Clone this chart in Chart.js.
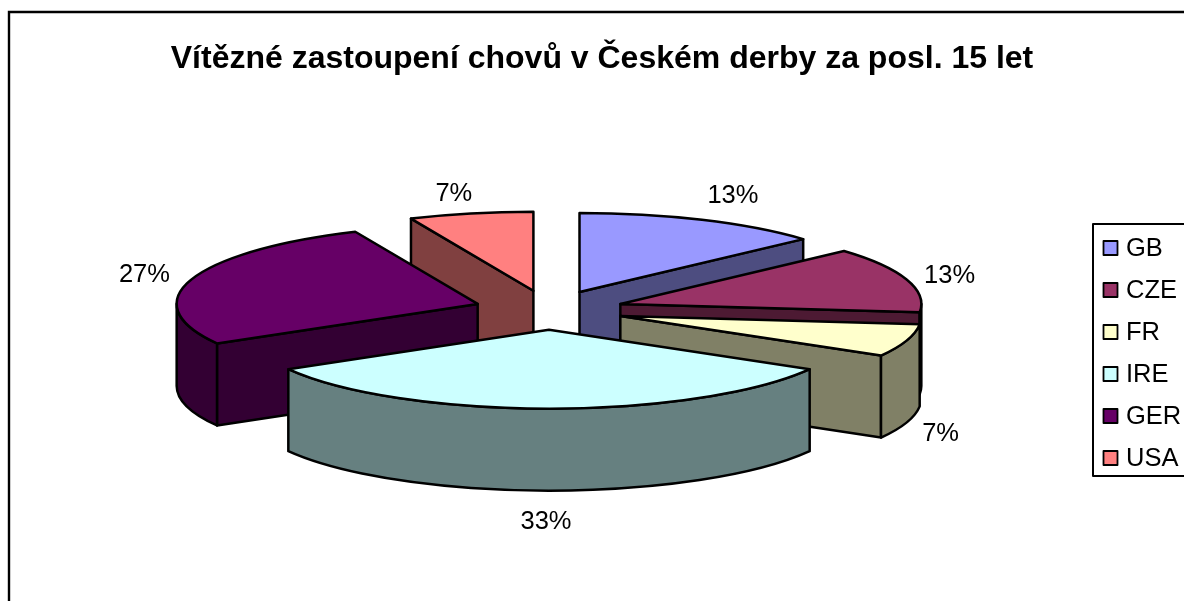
<!DOCTYPE html>
<html><head><meta charset="utf-8">
<style>html,body{margin:0;padding:0;background:#fff;overflow:hidden}#w{width:1184px;height:601px;position:relative}</style>
<script src="https://cdn.jsdelivr.net/npm/chart.js@4"></script>
</head><body><div id="w"><canvas id="c"></canvas></div>
<script>
const titleText = 'Vítězné zastoupení chovů v Českém derby za posl. 15 let';
const categories = ['GB','CZE','FR','IRE','GER','USA'];
const wins = [2,2,1,5,4,1];
const topColors = ['#9999FF','#993366','#FFFFCC','#CCFFFF','#660066','#FF8080'];
const sideColors = ['#4D4D80','#4D1A33','#808066','#668080','#330033','#804040'];
// pie projection on the page
const CX = 549, CY = 310, RX = 301, RY = 79, DEPTH = 82, EXPLODE = 75;
// small hand nudges of the percentage labels from the slice rim
const labelNudge = [[31,-24],[43,-4],[34,11],[-3,31],[-47,-5],[-17,-20]];

const FONT = '"Liberation Sans", Arial, sans-serif';

const pie3d = {
  id:'pie3d',
  beforeDraw(chart){
    const ctx = chart.ctx;
    ctx.save();
    ctx.fillStyle='#fff'; ctx.fillRect(0,0,chart.width,chart.height);
    ctx.strokeStyle='#000'; ctx.lineWidth=2.4;
    ctx.beginPath(); ctx.moveTo(9,chart.height); ctx.lineTo(9,12); ctx.lineTo(chart.width,12); ctx.stroke();
    ctx.restore();
  },
  beforeDatasetsDraw(chart){
    const ctx = chart.ctx;
    const arcs = chart.getDatasetMeta(0).data;
    const total = wins.reduce((a,b)=>a+b,0);
    const geo = arcs.map((el,i)=>{
      const mid=(el.startAngle+el.endAngle)/2;
      return {el,i,mid,s:el.startAngle,e:el.endAngle,
        ax:CX+EXPLODE*Math.cos(mid), ay:CY+EXPLODE*(RY/RX)*Math.sin(mid)};
    });
    const order = geo.slice().sort((a,b)=>Math.sin(a.mid)-Math.sin(b.mid));
    ctx.save();
    ctx.lineJoin='round'; ctx.lineWidth=2.5; ctx.strokeStyle='#000';
    order.forEach(g=>{
      const rim = t=>[g.ax+RX*Math.cos(t), g.ay+RY*Math.sin(t)];
      ctx.fillStyle = sideColors[g.i];
      const radial = t=>{
        const p=rim(t);
        ctx.beginPath();
        ctx.moveTo(g.ax,g.ay); ctx.lineTo(p[0],p[1]);
        ctx.lineTo(p[0],p[1]+DEPTH); ctx.lineTo(g.ax,g.ay+DEPTH); ctx.closePath();
        ctx.fill(); ctx.stroke();
      };
      if (Math.cos(g.s) < -1e-6) radial(g.s);
      if (Math.cos(g.e) >  1e-6) radial(g.e);
      const lo=Math.max(g.s,0), hi=Math.min(g.e,Math.PI);
      if (hi>lo){
        ctx.beginPath();
        ctx.ellipse(g.ax,g.ay,RX,RY,0,lo,hi);
        ctx.ellipse(g.ax,g.ay+DEPTH,RX,RY,0,hi,lo,true);
        ctx.closePath(); ctx.fill(); ctx.stroke();
      }
      // top face: the library's own arc element under the projection
      ctx.save();
      ctx.translate(g.ax,g.ay);
      ctx.scale(RX/g.el.outerRadius,RY/g.el.outerRadius);
      ctx.translate(-g.el.x,-g.el.y);
      g.el.draw(ctx);
      ctx.restore();
      ctx.beginPath();
      ctx.moveTo(g.ax,g.ay);
      ctx.ellipse(g.ax,g.ay,RX,RY,0,g.s,g.e);
      ctx.closePath(); ctx.stroke();
    });
    // percentage labels
    ctx.fillStyle='#000'; ctx.font='25.5px '+FONT; ctx.textAlign='center'; ctx.textBaseline='middle';
    geo.forEach(g=>{
      const front = Math.sin(g.mid)>0 ? DEPTH : 0;
      const x = g.ax+RX*Math.cos(g.mid)+labelNudge[g.i][0];
      const y = g.ay+RY*Math.sin(g.mid)+front+labelNudge[g.i][1];
      ctx.fillText(Math.round(wins[g.i]/total*100)+'%',x,y);
    });
    // legend
    const lx=1093, ly=224, lb=476;
    ctx.lineWidth=2;
    ctx.beginPath(); ctx.moveTo(chart.width+2,ly); ctx.lineTo(lx,ly); ctx.lineTo(lx,lb); ctx.lineTo(chart.width+2,lb); ctx.stroke();
    const step=(lb-ly)/categories.length;
    ctx.textAlign='left';
    categories.forEach((c,i)=>{
      const y=ly+step*(i+0.5)+3;
      ctx.fillStyle=topColors[i];
      ctx.fillRect(1103.5,y-7,14,14);
      ctx.lineWidth=1.8; ctx.strokeRect(1103.5,y-7,14,14);
      ctx.fillStyle='#000';
      ctx.fillText(c,1126,y+1);
    });
    ctx.restore();
    return false;
  }
};

new Chart(document.getElementById('c'),{
  type:'pie',
  data:{labels:categories,datasets:[{data:wins,backgroundColor:topColors,borderWidth:0,offset:0,hoverOffset:0}]},
  options:{
    responsive:true,maintainAspectRatio:false,animation:false,
    layout:{padding:{left:20,right:0,top:0,bottom:0}},
    events:[],
    plugins:{
      legend:{display:false},tooltip:{enabled:false},
      title:{display:true,text:titleText,fullSize:false,color:'#000',
        font:{family:FONT,size:32,weight:'bold',lineHeight:1.15},padding:{top:41,bottom:4}}
    }
  },
  plugins:[pie3d]
});
</script></body></html>
